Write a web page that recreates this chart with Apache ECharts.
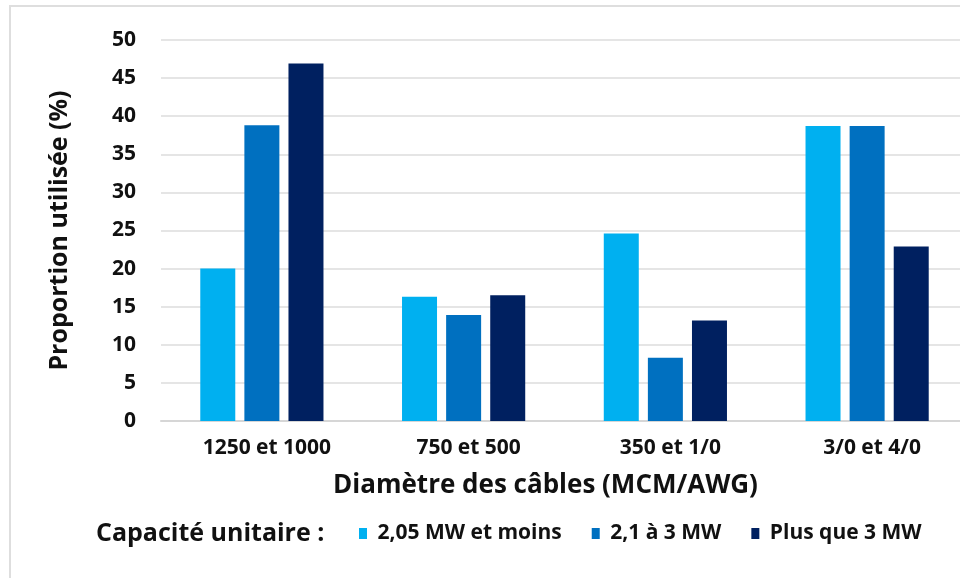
<!DOCTYPE html>
<html>
<head>
<meta charset="utf-8">
<script src="https://cdn.jsdelivr.net/npm/echarts@6/dist/echarts.min.js"></script>
<style>
html,body{margin:0;padding:0;background:#fff;overflow:hidden;width:960px;height:578px;}
#chart{width:968px;height:578px;}
</style>
</head>
<body>
<div id="chart"></div>
<script>
const categories = ['1250 et 1000', '750 et 500', '350 et 1/0', '3/0 et 4/0'];
const seriesNames = ['2,05 MW et moins', '2,1 à 3 MW', 'Plus que 3 MW'];
const lowCapacity = [20.0, 16.3, 24.6, 38.7];
const midCapacity = [38.8, 13.9, 8.3, 38.7];
const highCapacity = [46.9, 16.5, 13.2, 22.9];
const yTicks = { min: 0, max: 50, interval: 5 };
const colors = ['#00B0F0', '#0070C0', '#002060'];

const FONT = "'Open Sans', 'Noto Sans', sans-serif";
const chart = echarts.init(document.getElementById('chart'), null, { renderer: 'canvas' });

const values = [lowCapacity, midCapacity, highCapacity];
chart.setOption({
  animation: false,
  color: colors,
  graphic: [{
    type: 'rect', silent: true, z: -10,
    shape: { x: 10, y: 6, width: 980, height: 600 },
    style: { fill: 'none', stroke: '#dedede', lineWidth: 2 }
  }],
  title: {
    text: 'Capacité unitaire :',
    left: 91, top: 516,
    textStyle: { fontFamily: FONT, fontSize: 25, fontWeight: 'bold', color: '#111' }
  },
  legend: {
    data: seriesNames,
    left: 354, top: 518,
    itemWidth: 8, itemHeight: 11, itemGap: 30,
    icon: 'rect',
    formatter: n => ' ' + n,
    textStyle: { fontFamily: FONT, fontSize: 21, fontWeight: 'bold', color: '#111' }
  },
  grid: { left: 161, top: 40, right: 0, bottom: 157, containLabel: false },
  xAxis: {
    type: 'category',
    data: categories,
    name: 'Diamètre des câbles (MCM/AWG)',
    nameLocation: 'middle',
    nameGap: 52,
    nameTextStyle: { fontFamily: FONT, fontSize: 26, fontWeight: 'bold', color: '#111', padding: [0, 38, 0, 0] },
    axisLine: { lineStyle: { color: '#d6d6d6', width: 2 } },
    axisTick: { show: false },
    axisLabel: { margin: 17, fontFamily: FONT, fontSize: 21, fontWeight: 'bold', color: '#111',
                 padding: [0, 0, 0, 10] }
  },
  yAxis: {
    type: 'value',
    min: yTicks.min, max: yTicks.max, interval: yTicks.interval,
    name: 'Proportion utilisée (%)',
    nameLocation: 'middle',
    nameRotate: 90,
    nameGap: 89,
    nameTextStyle: { fontFamily: FONT, fontSize: 25, fontWeight: 'bold', color: '#111' },
    axisLine: { show: false },
    axisTick: { show: false },
    splitLine: { lineStyle: { color: '#dcdcdc', width: 1.5 } },
    axisLabel: { margin: 25, fontFamily: FONT, fontSize: 21, fontWeight: 'bold', color: '#111',
                 verticalAlign: 'middle', padding: [0, 0, 14, 0] }
  },
  series: seriesNames.map((name, i) => ({
    name, type: 'bar', data: values[i],
    barWidth: 35, barGap: '26%',
    itemStyle: { color: colors[i] }
  }))
});
</script>
</body>
</html>
